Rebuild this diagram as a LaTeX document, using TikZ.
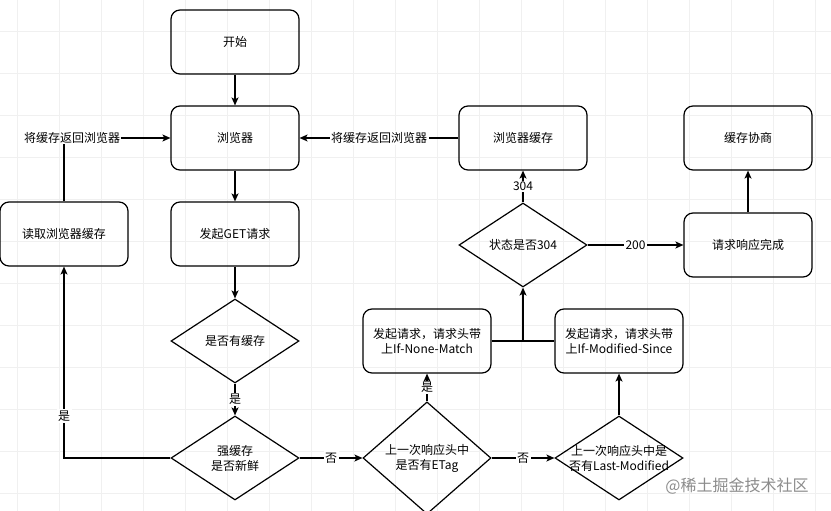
\documentclass[tikz,border=0pt]{standalone}
\usepackage{fontspec}
\setmainfont{Noto Sans CJK SC}
\usetikzlibrary{shapes.geometric,arrows.meta}

\tikzset{
  box/.style={draw, rounded corners=9pt, minimum width=128pt, minimum height=64pt, align=center, inner sep=0pt},
  decision/.style={draw, diamond, minimum width=128pt, minimum height=84pt, align=center, inner sep=0pt},
  lbl/.style={fill=white, inner sep=1.5pt},
  gridline/.style={draw=black!6, line width=0.8pt},
}

\begin{document}
\begin{tikzpicture}[x=1pt, y=-1pt, ->, >={Stealth[length=8pt, width=7pt, inset=2pt]}, line width=1.2pt,
    font=\fontsize{12}{15}\selectfont]
    \useasboundingbox (0,0) rectangle (831,511);
    \fill[white] (0,0) rectangle (831,511);
    % Background grid
    \foreach \gx in {17,59,...,831} \draw[gridline, -] (\gx,0) -- (\gx,511);
    \foreach \gy in {31,73,...,511} \draw[gridline, -] (0,\gy) -- (831,\gy);

    % Define states
    \node[box] (start) at (235,42) {开始};
    \node[box] (browser) at (235,138) {浏览器};
    \node[box] (get) at (235,234) {发起GET请求};
    \node[box] (readcache) at (64,234) {读取浏览器缓存};
    \node[decision] (hascache) at (235,341) {是否有缓存};
    \node[decision] (fresh) at (235,458) {强缓存\\是否新鲜};
    \node[decision] (etag) at (427,458) {上一次响应头中\\是否有ETag};
    \node[decision] (lastmod) at (619,458) {};
    \node[align=center] at (lastmod) {上一次响应头中是\\否有Last-Modified};
    \node[box] (nonematch) at (427,341) {发起请求，请求头带\\上If-None-Match};
    \node[box] (modsince) at (619,341) {发起请求，请求头带\\上If-Modified-Since};
    \node[decision] (status) at (523,245) {状态是否304};
    \node[box] (bcache) at (523,138) {浏览器缓存};
    \node[box] (done) at (748,245) {请求响应完成};
    \node[box] (nego) at (748,138) {缓存协商};
    \node[inner sep=0pt] (back) at (72,138) {将缓存返回浏览器};

    % Transitions between states
    \draw (start) -- (browser);
    \draw (browser) -- (get);
    \draw (get) -- (hascache);
    \draw (hascache) -- node[lbl] {是} (fresh);
    \draw (fresh.west) -| node[lbl, pos=0.61] {是} (readcache);
    \draw[-] (readcache.north) -- (readcache.north |- back.south);
    \draw (back.east) -- (browser.west);
    \draw (fresh) -- node[lbl] {否} (etag);
    \draw (etag) -- node[lbl] {是} (nonematch);
    \draw (etag) -- node[lbl] {否} (lastmod);
    \draw (lastmod) -- (modsince);
    \draw[-] (nonematch) -- (modsince);
    \coordinate (join) at (nonematch.east -| status);
    \draw (join) -- (status.south);
    \draw (status) -- node[lbl] {304} (bcache);
    \draw (bcache) -- node[lbl] {将缓存返回浏览器} (browser);
    \draw (status) -- node[lbl] {200} (done);
    \draw (done) -- (nego);

    % Watermark
    \node[text=black!45, font=\fontsize{16}{18}\selectfont] (mark) at (737,486) {@稀土掘金技术社区};
\end{tikzpicture}
\end{document}
